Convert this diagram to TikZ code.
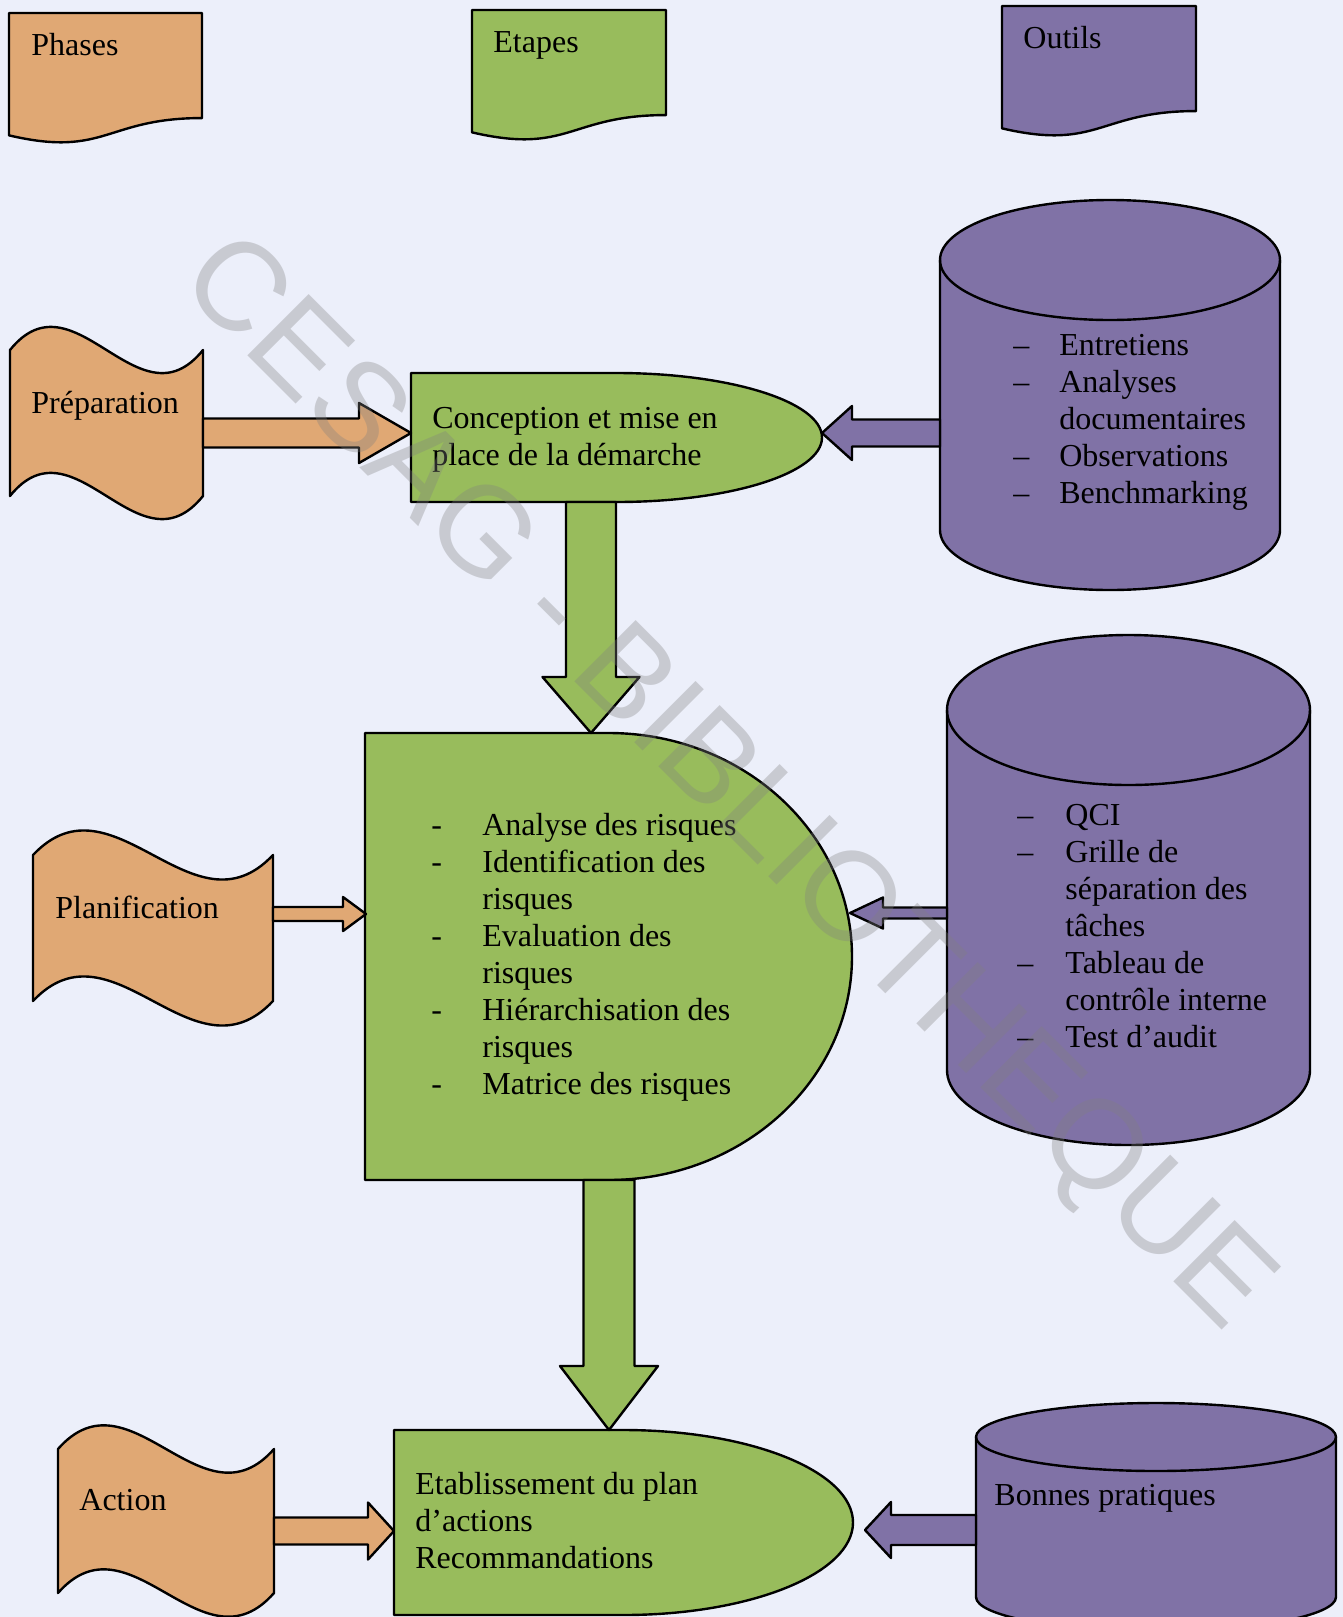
\documentclass[tikz,border=0pt]{standalone}
\usepackage{fontspec}
\setmainfont{Liberation Serif}
\newfontfamily\wmfont{Liberation Sans}
\usetikzlibrary{calc}
\definecolor{bgc}{RGB}{236,239,250}
\definecolor{orangec}{RGB}{224,168,116}
\definecolor{greenc}{RGB}{152,188,92}
\definecolor{purplec}{RGB}{128,114,166}

% punched-tape shape: style, x0, width, y of top edge ends, y of bottom edge ends, wave control
\newcommand{\tapeshape}[6]{%
  \filldraw[#1] (#2,#4) .. controls ({#2+#3/3},{#4-#6}) and ({#2+2*#3/3},{#4+#6}) .. ({#2+#3},#4)
     -- ({#2+#3},#5) .. controls ({#2+2*#3/3},{#5+#6}) and ({#2+#3/3},{#5-#6}) .. (#2,#5) -- cycle;}

% document shape: style, x0, y0, width, height
\newcommand{\docshape}[5]{%
  \filldraw[#1] (#2,#3) -- ({#2+#4},#3) -- ({#2+#4},{#3+0.802*#5})
    .. controls ({#2+0.5*#4},{#3+0.802*#5}) and ({#2+0.5*#4},{#3+1.107*#5}) .. (#2,{#3+0.934*#5}) -- cycle;}

% delay shape: style, x0, ytop, x1, ybottom
\newcommand{\delayshape}[5]{%
  \filldraw[#1] (#2,#3) -- ({(#2+#4)/2},#3)
    arc[start angle=90,end angle=-90,x radius={(#4-#2)/4*1pt},y radius={(#5-#3)/4*1pt}]
    -- (#2,#5) -- cycle;}

% cylinder: style, x0, ytop, x1, ybottom, ellipse half-height
\newcommand{\cylshape}[6]{%
  \filldraw[#1] (#2,{#3+#6}) -- (#2,{#5-#6})
    arc[start angle=180,end angle=360,x radius={(#4-#2)/4*1pt},y radius={#6/2*1pt}]
    -- (#4,{#3+#6})
    arc[start angle=0,end angle=180,x radius={(#4-#2)/4*1pt},y radius={#6/2*1pt}] -- cycle;
  \draw[#1,fill=none] (#2,{#3+#6})
    arc[start angle=180,end angle=360,x radius={(#4-#2)/4*1pt},y radius={#6/2*1pt}];}

% horizontal block arrow: style, from, tip, shaft half, head half, head length (signed)
\newcommand{\harrow}[6]{%
  \filldraw[#1] ($(#2)+(0,-#4)$) -- ($(#3)+({-(#6)},-#4)$) -- ($(#3)+({-(#6)},-#5)$)
    -- (#3) -- ($(#3)+({-(#6)},#5)$) -- ($(#3)+({-(#6)},#4)$) -- ($(#2)+(0,#4)$) -- cycle;}

% vertical block arrow (downwards): style, from, tip, shaft half, head half, head length
\newcommand{\varrow}[6]{%
  \filldraw[#1] ($(#2)+(-#4,0)$) -- ($(#3)+(-#4,-#6)$) -- ($(#3)+(-#5,-#6)$)
    -- (#3) -- ($(#3)+(#5,-#6)$) -- ($(#3)+(#4,-#6)$) -- ($(#2)+(#4,0)$) -- cycle;}

\begin{document}
\begin{tikzpicture}[x=0.5pt,y=-0.5pt,
  orangesh/.style={fill=orangec,draw=black,line width=1.2pt,line join=round},
  greensh/.style={fill=greenc,draw=black,line width=1.2pt,line join=round},
  purplesh/.style={fill=purplec,draw=black,line width=1.2pt,line join=round},
  lbl/.style={font=\fontsize{16}{18.5}\selectfont,inner sep=0pt,anchor=base west,align=left},
  wm/.style={font=\wmfont\fontsize{63}{63}\selectfont,text=black!50,text opacity=0.33,rotate=-45,inner sep=0pt}]

\useasboundingbox (0,0) rectangle (1343,1617);
\fill[bgc] (0,0) rectangle (1343,1617);
\clip (0,0) rectangle (1343,1617);

% legend
\docshape{orangesh}{9}{13}{193}{131}
\docshape{greensh}{472}{10}{194}{131}
\docshape{purplesh}{1002}{6}{194}{131}
\node[lbl] (tPhases) at (31,55) {Phases};
\node[lbl] (tEtapes) at (493,52) {Etapes};
\node[lbl] (tOutils) at (1023,48) {Outils};

% shapes
\tapeshape{orangesh}{10}{193}{350}{496}{80}
\tapeshape{orangesh}{33}{240}{855}{1001}{85}
\tapeshape{orangesh}{58}{216}{1449}{1593}{82}

\delayshape{greensh}{411}{373}{822}{502}
\delayshape{greensh}{365}{733}{852}{1180}
\delayshape{greensh}{394}{1430}{853}{1615}

\cylshape{purplesh}{940}{200}{1280}{590}{60}
\cylshape{purplesh}{947}{635}{1310}{1145}{75}
\cylshape{purplesh}{976}{1403}{1336}{1631}{34}

% anchor coordinates
\coordinate (prepE) at (203,433);
\coordinate (concW) at (411,433);
\coordinate (cylAW) at (940,433);
\coordinate (concE) at (822,433);
\coordinate (concS) at (591,502);
\coordinate (anaN) at (591,733);
\coordinate (planE) at (273,914);
\coordinate (anaW) at (366,914);
\coordinate (cylBW) at (947,913);
\coordinate (anaE) at (850,913);
\coordinate (anaS) at (609,1180);
\coordinate (etabN) at (609,1430);
\coordinate (actE) at (274,1531);
\coordinate (etabW) at (394,1531);
\coordinate (cylCW) at (976,1530);
\coordinate (etabE) at (865,1530);

% block arrows
\harrow{orangesh}{prepE}{concW}{14.5}{30}{52}
\harrow{orangesh}{planE}{anaW}{7}{17}{23}
\harrow{orangesh}{actE}{etabW}{13.5}{28.5}{26}
\harrow{purplesh}{cylAW}{concE}{13.5}{27}{-30}
\harrow{purplesh}{cylBW}{anaE}{5.5}{15.5}{-33}
\harrow{purplesh}{cylCW}{etabE}{15}{28}{-26}
\varrow{greensh}{concS}{anaN}{25}{48.5}{56}
\varrow{greensh}{anaS}{etabN}{25.5}{49}{64}

% texts
\node[lbl] (tPrep) at (31,413) {Préparation};
\node[lbl] (tPlan) at (55,918) {Planification};
\node[lbl] (tAction) at (79,1510) {Action};

\node[lbl] (tConc) at (432,428) {\begin{tabular}[t]{@{}l@{}}Conception et mise en\\place de la démarche\end{tabular}};
\node[lbl] (tRisk) at (431,835) {\begin{tabular}[t]{@{}p{25.5pt}@{}l@{}}
-&Analyse des risques\\
-&Identification des\\
&risques\\
-&Evaluation des\\
&risques\\
-&Hiérarchisation des\\
&risques\\
-&Matrice des risques\end{tabular}};
\node[lbl] (tEtab) at (415,1494) {\begin{tabular}[t]{@{}l@{}}Etablissement du plan\\d’actions\\Recommandations\end{tabular}};

\node[lbl] (tToolA) at (1013,355) {\begin{tabular}[t]{@{}p{23pt}@{}l@{}}
–&Entretiens\\
–&Analyses\\
&documentaires\\
–&Observations\\
–&Benchmarking\end{tabular}};
\node[lbl] (tToolB) at (1017,825) {\begin{tabular}[t]{@{}p{24pt}@{}l@{}}
–&QCI\\
–&Grille de\\
&séparation des\\
&tâches\\
–&Tableau de\\
&contrôle interne\\
–&Test d’audit\end{tabular}};
\node[lbl] (tToolC) at (994,1505) {Bonnes pratiques};

% watermark
\node[wm] (wmark) at (724,786) {CESAG - BIBLIOTHEQUE};
\end{tikzpicture}
\end{document}
